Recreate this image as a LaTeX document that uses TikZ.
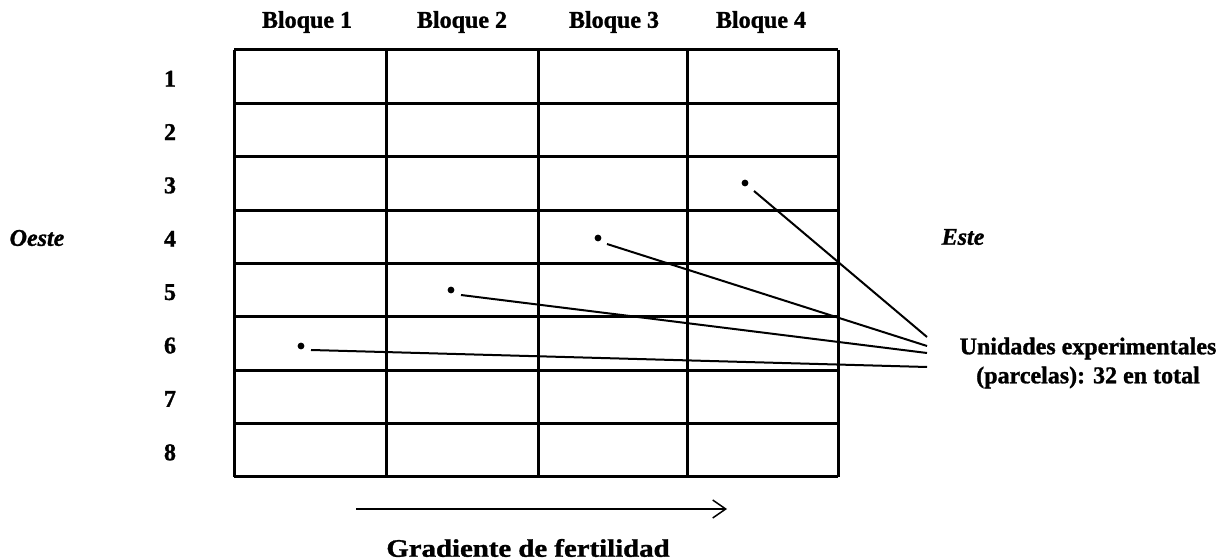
\documentclass[tikz,border=0pt]{standalone}
\usepackage{fontspec}
\setmainfont{Liberation Serif}[BoldFeatures={FakeBold=1.2},BoldItalicFeatures={FakeBold=1.2}]
\usetikzlibrary{arrows.meta}
\tikzset{
  lbl/.style={inner sep=0pt, font=\fontsize{12}{13.5}\selectfont\bfseries},
  side/.style={inner sep=0pt, font=\fontsize{12}{13.5}\selectfont\bfseries\itshape},
  gridline/.style={line width=1.5pt},
  conn/.style={line width=1pt},
  dotn/.style={circle, fill=black, inner sep=0pt, minimum size=3.4pt},
}
\begin{document}
\begin{tikzpicture}[x=0.5pt,y=-0.5pt]
\useasboundingbox (0,0) rectangle (1225,560);
% grid
\foreach \k in {0,...,8} {
  \draw[gridline] (234,{50+\k*53.375}) -- (838,{50+\k*53.375});
}
\foreach \xx in {234,386,538,687,838} {
  \draw[gridline] (\xx,50) -- (\xx,477);
}
% column headers
\node[lbl] (b1) at (307,22) {Bloque 1};
\node[lbl] (b2) at (462,22) {Bloque 2};
\node[lbl] (b3) at (614,22) {Bloque 3};
\node[lbl] (b4) at (761,22) {Bloque 4};
% row numbers
\foreach \k in {1,...,8} {
  \node[lbl] (r\k) at (170,{50+(\k-0.5)*53.375+2}) {\k};
}
% sides
\node[side] (oeste) at (37,238) {Oeste};
\node[side] (este) at (963,237) {Este};
% dots
\node[dotn] (d1) at (745,183) {};
\node[dotn] (d2) at (598,238) {};
\node[dotn] (d3) at (451,290) {};
\node[dotn] (d4) at (301,346) {};
\coordinate (s1) at (754,191);
\coordinate (s2) at (607,244);
\coordinate (s3) at (461,295);
\coordinate (s4) at (311,350);
\coordinate (e1) at (927,337);
\coordinate (e2) at (927,346);
\coordinate (e3) at (927,353);
\coordinate (e4) at (927,367);
\draw[conn] (s1) -- (e1);
\draw[conn] (s2) -- (e2);
\draw[conn] (s3) -- (e3);
\draw[conn] (s4) -- (e4);
% label
\node[lbl, align=center] (ue) at (1088,363) {Unidades experimentales\\[1pt](parcelas): 32 en total};
% gradient arrow
\coordinate (ga) at (356,509);
\coordinate (gb) at (727,509);
\draw[line width=0.75pt, -{Straight Barb[length=6.5pt,width=9pt,line width=0.75pt]}] (ga) -- (gb);
\node[lbl] (grad) at (528,548) {\scalebox{1.2}[1.05]{Gradiente de fertilidad}};
\end{tikzpicture}
\end{document}
